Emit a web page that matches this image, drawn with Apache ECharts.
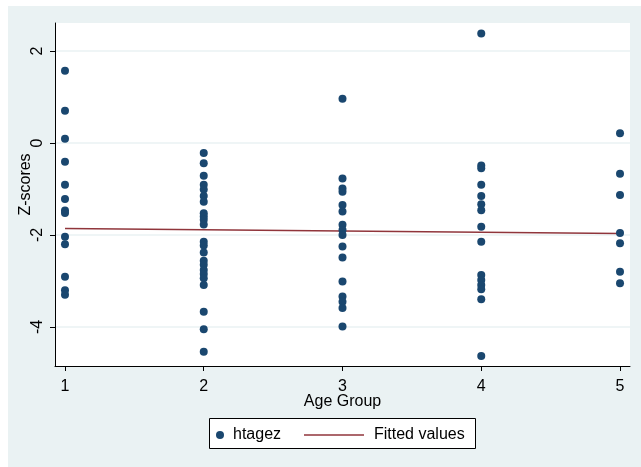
<!DOCTYPE html>
<html>
<head>
<meta charset="utf-8">
<script src="https://cdn.jsdelivr.net/npm/echarts@6/dist/echarts.min.js"></script>
<style>html,body{margin:0;padding:0;background:#fff;}#c{width:641px;height:467px;}</style>
</head>
<body>
<div id="c"></div>
<script>
const xTicks = [1, 2, 3, 4, 5];
const yTicks = [-4, -2, 0, 2];
const group1 = [1.57, 0.70, 0.09, -0.41, -0.91, -1.22, -1.47, -1.52, -2.04, -2.20, -2.91, -3.20, -3.30];
const group2 = [-0.22, -0.44, -0.71, -0.91, -1.01, -1.15, -1.28, -1.53, -1.60, -1.67, -1.77, -2.15, -2.23, -2.38, -2.56, -2.65, -2.76, -2.85, -2.94, -3.09, -3.67, -4.05, -4.54];
const group3 = [0.96, -0.77, -0.99, -1.06, -1.35, -1.49, -1.78, -1.89, -2.00, -2.25, -2.49, -3.01, -3.34, -3.45, -3.59, -3.99];
const group4 = [2.38, -0.49, -0.55, -0.91, -1.15, -1.33, -1.46, -1.82, -2.15, -2.87, -2.98, -3.09, -3.18, -3.40, -4.63];
const group5 = [0.21, -0.67, -1.13, -1.96, -2.18, -2.80, -3.05];
const fitted = [[1, -1.86], [5, -1.97]];

const groups = [group1, group2, group3, group4, group5];
const scatterData = [];
groups.forEach((g, i) => g.forEach(v => scatterData.push([xTicks[i], v])));

const font = 'Liberation Sans, Arial, sans-serif';
const chart = echarts.init(document.getElementById('c'));
chart.setOption({
  backgroundColor: '#ffffff',
  animation: false,
  textStyle: { fontFamily: font },
  graphic: [
    { type: 'rect', left: 8, top: 6, shape: { width: 633, height: 461 }, style: { fill: '#eaf2f3' }, z: -10, silent: true },
    { type: 'rect', left: 209, top: 418, shape: { width: 266, height: 30 }, style: { fill: '#ffffff', stroke: '#000000', lineWidth: 1 }, z: 0, silent: true }
  ],
  grid: { left: 55, top: 23, right: 11, bottom: 101, show: true, backgroundColor: '#ffffff', borderWidth: 0 },
  xAxis: {
    type: 'value', min: 0.928, max: 5.072,
    name: 'Age Group', nameLocation: 'middle', nameGap: 28, nameMoveOverlap: false,
    nameTextStyle: { fontSize: 16, color: '#000', fontFamily: font },
    axisLine: { onZero: false, lineStyle: { color: '#000', width: 1 } },
    axisTick: { customValues: xTicks, length: 5, lineStyle: { color: '#000' } },
    axisLabel: { customValues: xTicks, fontSize: 16, color: '#000', margin: 13, fontFamily: font },
    splitLine: { show: false }
  },
  yAxis: {
    type: 'value', min: -4.85, max: 2.61,
    name: 'Z-scores', nameLocation: 'middle', nameGap: 21, nameRotate: 90, nameMoveOverlap: false,
    nameTextStyle: { fontSize: 16, color: '#000', fontFamily: font, padding: [0, 0, 0, 20] },
    axisLine: { onZero: false, lineStyle: { color: '#000', width: 1 } },
    axisTick: { customValues: yTicks, length: 5, lineStyle: { color: '#000' } },
    axisLabel: { customValues: yTicks, fontSize: 16, color: '#000', rotate: 90, margin: 9, fontFamily: font },
    splitLine: { show: true, lineStyle: { color: '#eaf2f3', width: 1.5 } }
  },
  legend: [
    { data: ['htagez'], left: 216, top: 427, itemWidth: 8, itemHeight: 8, itemGap: 0, textStyle: { fontSize: 16, color: '#000', padding: [0, 0, 0, 4] }, icon: 'circle', padding: 0 },
    { data: ['Fitted values'], left: 304, top: 427, itemWidth: 60, itemHeight: 1.5, icon: 'rect', textStyle: { fontSize: 16, color: '#000', padding: [0, 0, 0, 5] }, padding: 0 }
  ],
  series: [
    { name: 'htagez', type: 'scatter', data: scatterData, symbol: 'circle', symbolSize: 8, itemStyle: { color: '#1a476f', opacity: 1 }, z: 3 },
    { name: 'Fitted values', type: 'line', data: fitted, symbol: 'none', lineStyle: { color: '#90353b', width: 1.5 }, itemStyle: { color: '#90353b' }, z: 2 }
  ]
});
</script>
</body>
</html>
